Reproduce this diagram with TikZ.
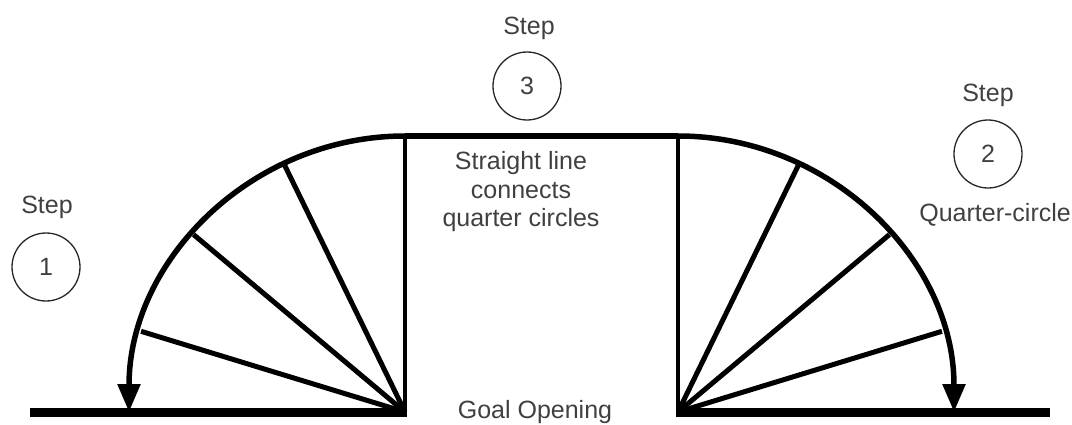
\documentclass[tikz,border=0pt]{standalone}
\usepackage{fontspec}
\setmainfont{Liberation Sans}
\usetikzlibrary{arrows.meta}
\begin{document}
\begin{tikzpicture}[x=1pt,y=1pt,
  lbl/.style={inner sep=0pt,text=black!75,font=\fontsize{25}{28.5}\selectfont},
  numcirc/.style={circle,draw=black!85,line width=1.3pt,minimum size=68pt,inner sep=0pt,text=black!75,font=\fontsize{25}{28}\selectfont},
  baseln/.style={line width=9pt},
  arcln/.style={line width=5.5pt},
  spoke/.style={line width=5pt},
  post/.style={line width=4pt},
  tip/.style={-{Triangle[length=28pt,width=22pt]}}
]
\useasboundingbox (0,0) rectangle (1072,424);
% key points
\coordinate (cL) at (405,12);
\coordinate (cR) at (678,12);
\coordinate (tL) at (405,288);
\coordinate (tR) at (678,288);
\coordinate (bL0) at (30,12);
\coordinate (bR1) at (1050,12);
% base lines
\draw[baseln] (bL0) -- ([xshift=2pt]cL);
\draw[baseln] ([xshift=-2pt]cR) -- (bR1);
% posts and top line
\draw[post] (cL) -- (tL);
\draw[post] (cR) -- (tR);
\draw[arcln] (tL) -- (tR);
% quarter circles with arrows
\draw[arcln,tip] (tL) arc[start angle=90,end angle=180,radius=276];
\draw[arcln,tip] (tR) arc[start angle=90,end angle=0,radius=276];
% spokes
\foreach \a in {116,140,163} \draw[spoke] (cL) -- ++(\a:276);
\foreach \a in {17,40,64} \draw[spoke] (cR) -- ++(\a:276);
% labels
\node[lbl] (s1) at (47,217) {Step};
\node[numcirc] (n1) at (46,157) {1};
\node[lbl] (s3) at (529,396) {Step};
\node[numcirc] (n3) at (527,338) {3};
\node[lbl,align=center] (txt) at (521,232) {Straight line\\connects\\quarter circles};
\node[lbl] (s2) at (988,329) {Step};
\node[numcirc] (n2) at (988,270) {2};
\node[lbl,anchor=east] (qc) at (1071,209) {Quarter-circle};
\node[lbl,anchor=base] (goal) at (535,6) {Goal Opening};
\end{tikzpicture}
\end{document}
